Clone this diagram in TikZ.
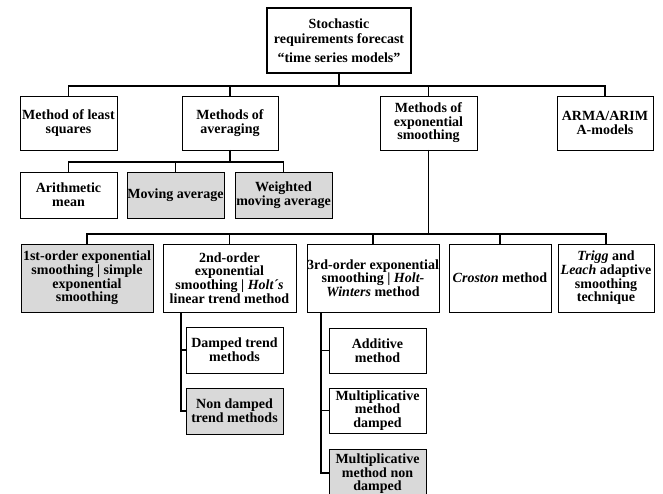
\documentclass[tikz,border=0pt]{standalone}
\usepackage{fontspec}
\setmainfont{Liberation Serif}
\begin{document}
\begin{tikzpicture}[x=1pt,y=-1pt,
  box/.style={draw, line width=0.9pt, align=center, inner sep=0pt, outer sep=0pt,
    font=\bfseries\fontsize{14}{13.6}\selectfont},
  greybox/.style={box, fill=black!15},
  conn/.style={line width=1.8pt}]
\useasboundingbox (0,0) rectangle (663,494);

% root
\node[box, line width=2.5pt, minimum width=144, minimum height=65,
  font=\bfseries\fontsize{14}{15}\selectfont] (top) at (339,40.5)
  {Stochastic\\requirements forecast\\[4pt]\textquotedblleft time series models\textquotedblright};

% level 1
\node[box, minimum width=97, minimum height=54] (lsq)  at (68.5,123) {Method of least\\squares};
\node[box, minimum width=96, minimum height=54] (avg)  at (230,123)  {Methods of\\averaging};
\node[box, minimum width=97, minimum height=54] (exps) at (428.5,123) {Methods of\\exponential\\smoothing};
\node[box, minimum width=96, minimum height=54] (arma) at (605,123)  {ARMA/ARIM\\A-models};

% averaging children
\node[box, minimum width=97, minimum height=46] (arith) at (68.5,195) {Arithmetic\\mean};
\node[greybox, minimum width=97, minimum height=46] (mav) at (175.5,195) {Moving average};
\node[greybox, minimum width=97, minimum height=46] (wma) at (283.5,195) {Weighted\\moving average};

% exponential children
\node[greybox, minimum width=132, minimum height=68] (first) at (87,278)
  {1st-order exponential\\smoothing | simple\\exponential\\smoothing};
\node[box, minimum width=133, minimum height=68] (second) at (229.5,278)
  {2nd-order\\exponential\\smoothing | \textit{Holt´s}\\linear trend method};
\node[box, minimum width=132, minimum height=68] (third) at (373,278)
  {3rd-order exponential\\smoothing | \textit{Holt-}\\\textit{Winters} method};
\node[box, minimum width=102, minimum height=68] (croston) at (500,278)
  {\textit{Croston} method};
\node[box, minimum width=96, minimum height=68] (trigg) at (606,278)
  {\textit{Trigg} and\\\textit{Leach} adaptive\\smoothing\\technique};

% second-order children
\node[box, minimum width=97, minimum height=46] (damped) at (234.5,350) {Damped trend\\methods};
\node[greybox, minimum width=97, minimum height=46] (nondamped) at (234.5,411) {Non damped\\trend methods};

% third-order children
\node[box, minimum width=97, minimum height=45] (additive) at (377.5,350.5) {Additive\\method};
\node[box, minimum width=97, minimum height=45] (multd) at (377.5,410.5) {Multiplicative\\method\\damped};
\node[greybox, minimum width=97, minimum height=50] (multn) at (377.5,474) {Multiplicative\\method non\\damped};

% connectors level 1
\coordinate (b1) at (339,86);
\draw[conn] (top.south) -- (b1);
\draw[conn] (lsq.north) |- (b1) -| (arma.north);
\draw[conn] (avg.north) -- (avg.north |- b1);
\draw[conn] (exps.north) -- (exps.north |- b1);

% averaging bus
\coordinate (b2) at (230,162);
\draw[conn] (avg.south) -- (b2);
\draw[conn] (arith.north) |- (b2) -| (wma.north);
\draw[conn] (mav.north) -- (mav.north |- b2);

% exponential bus
\coordinate (b3) at (428.5,234);
\draw[conn] (exps.south) -- (b3);
\draw[conn] (first.north) |- (b3) -| (trigg.north);
\draw[conn] (second.north) -- (second.north |- b3);
\draw[conn] (third.north) -- (third.north |- b3);
\draw[conn] (croston.north) -- (croston.north |- b3);

% second-order subtree
\coordinate (v2) at (181,312);
\draw[conn] (v2) |- (nondamped.west);
\draw[conn] (v2 |- damped.west) -- (damped.west);

% third-order subtree
\coordinate (v3) at (321,312);
\coordinate (v3end) at (321,473);
\draw[conn] (v3) -- (v3end) -- (v3end -| multn.west);
\draw[conn] (v3 |- additive.west) -- (additive.west);
\draw[conn] (v3 |- multd.west) -- (multd.west);
\end{tikzpicture}
\end{document}
